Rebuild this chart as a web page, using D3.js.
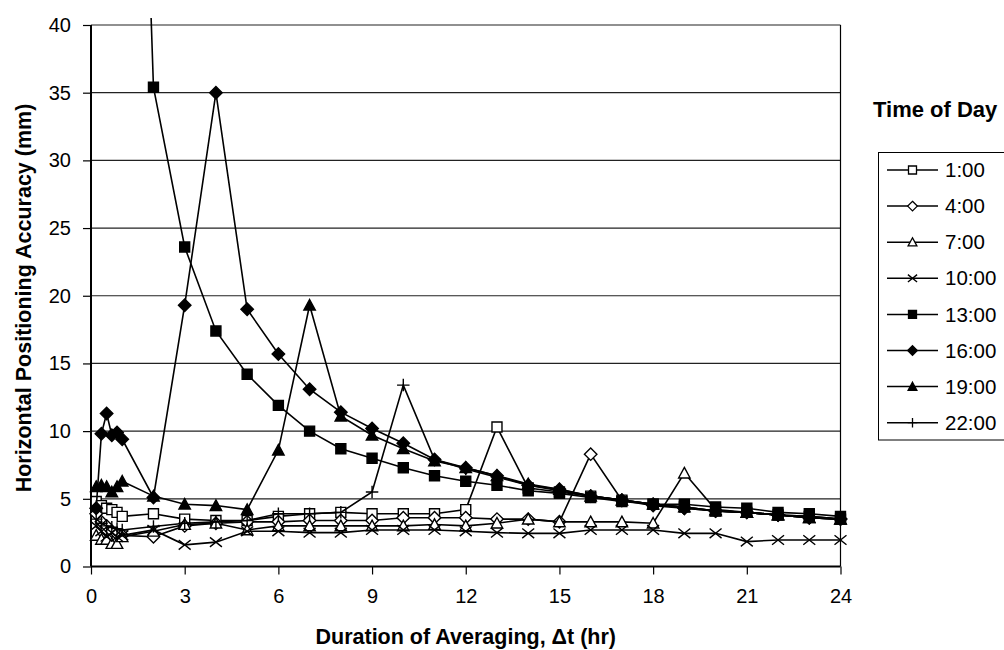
<!DOCTYPE html>
<html><head><meta charset="utf-8">
<script src="https://cdn.jsdelivr.net/npm/d3@7"></script>
<style>body{margin:0;background:#fff;} svg{display:block;font-family:"Liberation Sans",Arial,sans-serif;}</style>
</head><body>
<svg id="chart" width="1004" height="650"></svg>
<script>
const xValues = [1/6, 2/6, 3/6, 4/6, 5/6, 1, 2, 3, 4, 5, 6, 7, 8, 9, 10, 11, 12, 13, 14, 15, 16, 17, 18, 19, 20, 21, 22, 23, 24];
const seriesNames = ["1:00", "4:00", "7:00", "10:00", "13:00", "16:00", "19:00", "22:00"];
const s0100 = [4.8, 4.5, 4.3, 4.2, 4.0, 3.7, 3.9, 3.5, 3.4, 3.4, 3.7, 3.9, 4.0, 3.9, 3.9, 3.9, 4.2, 10.3, 5.8, 5.5, 5.2, 4.9, 4.6, 4.4, 4.1, 4.0, 3.8, 3.7, 3.5];
const s0400 = [3.9, 3.3, 3.0, 2.6, 2.4, 2.3, 2.2, 3.0, 3.2, 3.3, 3.3, 3.4, 3.4, 3.4, 3.6, 3.6, 3.6, 3.5, 3.5, 3.3, 8.3, 4.9, 4.5, 4.3, 4.1, 4.0, 3.8, 3.6, 3.5];
const s0700 = [2.3, 2.0, 2.0, 1.7, 1.7, 2.2, 2.6, 3.1, 3.2, 2.7, 3.0, 3.0, 3.0, 3.0, 3.0, 3.1, 3.0, 3.2, 3.5, 3.3, 3.3, 3.3, 3.2, 6.9, 4.2, 4.0, 3.8, 3.6, 3.5];
const s1000 = [3.0, 2.6, 2.2, 2.5, 2.2, 2.3, 2.7, 1.6, 1.8, 2.6, 2.6, 2.5, 2.5, 2.7, 2.7, 2.7, 2.6, 2.5, 2.45, 2.45, 2.7, 2.7, 2.7, 2.45, 2.45, 1.84, 1.96, 1.96, 1.96];
const s1300 = [60, 70, 80, 90, 100, 104, 35.4, 23.6, 17.4, 14.2, 11.9, 10.0, 8.7, 8.0, 7.3, 6.7, 6.3, 6.0, 5.6, 5.4, 5.1, 4.8, 4.6, 4.6, 4.4, 4.3, 4.0, 3.9, 3.7];
const s1600 = [4.3, 9.8, 11.3, 9.7, 9.9, 9.4, 5.1, 19.3, 35.0, 19.0, 15.7, 13.1, 11.4, 10.2, 9.1, 7.9, 7.3, 6.7, 6.0, 5.7, 5.2, 4.9, 4.6, 4.3, 4.1, 4.0, 3.8, 3.6, 3.5];
const s1900 = [5.9, 6.0, 5.9, 5.5, 5.9, 6.3, 5.2, 4.6, 4.5, 4.2, 8.6, 19.3, 11.1, 9.7, 8.7, 7.8, 7.3, 6.7, 6.1, 5.7, 5.2, 4.9, 4.6, 4.4, 4.1, 4.0, 3.8, 3.6, 3.5];
const s2200 = [3.5, 3.2, 3.0, 2.9, 2.8, 2.7, 2.95, 3.2, 3.3, 3.4, 3.9, 3.9, 4.0, 5.5, 13.4, 7.9, 7.2, 6.6, 6.0, 5.6, 5.2, 4.9, 4.6, 4.4, 4.1, 4.0, 3.8, 3.7, 3.5];
const seriesValues = [s0100, s0400, s0700, s1000, s1300, s1600, s1900, s2200];
const markerTypes = ["squareOpen", "diamondOpen", "triangleOpen", "x", "squareFilled", "diamondFilled", "triangleFilled", "plus"];
const xTicks = [0, 3, 6, 9, 12, 15, 18, 21, 24];
const yTicks = [0, 5, 10, 15, 20, 25, 30, 35, 40];

const svg = d3.select("#chart");
const L = 91, R = 840.5, T = 25, B = 566.5;
const x = d3.scaleLinear().domain([0, 24]).range([L, R]);
const y = d3.scaleLinear().domain([0, 40]).range([B, T]);

function markerPath(type, s) {
  const p = d3.path();
  if (type.startsWith("square")) { p.rect(-s, -s, 2*s, 2*s); }
  else if (type.startsWith("diamond")) { const d = s*1.2; p.moveTo(0,-d); p.lineTo(d,0); p.lineTo(0,d); p.lineTo(-d,0); p.closePath(); }
  else if (type.startsWith("triangle")) { const h = s*1.1; p.moveTo(0,-h); p.lineTo(h,h*0.85); p.lineTo(-h,h*0.85); p.closePath(); }
  else if (type === "x") { const d = s*1.15; p.moveTo(-d,-d*0.8); p.lineTo(d,d*0.8); p.moveTo(-d,d*0.8); p.lineTo(d,-d*0.8); }
  else if (type === "plus") { const d = s*1.2; p.moveTo(-d,0); p.lineTo(d,0); p.moveTo(0,-d); p.lineTo(0,d); }
  return p.toString();
}
function markerFill(type) { return type.endsWith("Filled") ? "#000" : (type.endsWith("Open") ? "#fff" : "none"); }

// gridlines
svg.append("g").selectAll("line").data(yTicks.filter(v => v > 0)).join("line")
  .attr("x1", L).attr("x2", R).attr("y1", d => y(d)).attr("y2", d => y(d))
  .attr("stroke", "#222").attr("stroke-width", 1.2);
svg.append("line").attr("x1", R).attr("x2", R).attr("y1", T).attr("y2", B).attr("stroke", "#000").attr("stroke-width", 1.2);

// axes
const yAxis = svg.append("g").attr("transform", `translate(${L},0)`)
  .call(d3.axisLeft(y).tickValues(yTicks).tickSize(8).tickPadding(12));
const xAxis = svg.append("g").attr("transform", `translate(0,${B})`)
  .call(d3.axisBottom(x).tickValues(xTicks).tickSize(8).tickPadding(14));
[yAxis, xAxis].forEach(g => {
  g.select(".domain").attr("stroke", "#000").attr("stroke-width", 2);
  g.selectAll(".tick line").attr("stroke", "#000").attr("stroke-width", 1.2);
  g.selectAll(".tick text").attr("fill", "#000").attr("font-size", 20).attr("font-family", "Liberation Sans, Arial, sans-serif");
});
xAxis.select(".domain").attr("d", `M${L},0H${R}`);
yAxis.select(".domain").attr("d", `M0,${B}V${T}`);

// clip
svg.append("defs").append("clipPath").attr("id", "clip").append("rect")
  .attr("x", L - 10).attr("y", 18).attr("width", R - L + 20).attr("height", B - 18 + 10);

const plot = svg.append("g").attr("clip-path", "url(#clip)");
const line = d3.line().x((d, i) => x(xValues[i])).y(d => y(d));
seriesValues.forEach((vals, si) => {
  const g = plot.append("g");
  g.append("path").attr("d", line(vals)).attr("fill", "none").attr("stroke", "#000").attr("stroke-width", 1.6);
  const t = markerTypes[si];
  g.selectAll("path.m").data(vals.map((v, i) => [xValues[i], v]).filter(d => d[1] <= 40)).join("path")
    .attr("class", "m")
    .attr("transform", d => `translate(${x(d[0])},${y(d[1])})`)
    .attr("d", markerPath(t, t.startsWith("square") ? 5 : 5.2))
    .attr("fill", markerFill(t)).attr("stroke", "#000").attr("stroke-width", 1.4);
});

// axis titles
svg.append("text").attr("x", (L + R) / 2).attr("y", 644).attr("text-anchor", "middle")
  .attr("font-size", 21.5).attr("font-weight", "bold").text("Duration of Averaging, \u0394t (hr)");
svg.append("text").attr("transform", "translate(31,298) rotate(-90)").attr("text-anchor", "middle")
  .attr("font-size", 21.5).attr("font-weight", "bold").text("Horizontal Positioning Accuracy (mm)");

// legend
svg.append("text").attr("x", 873).attr("y", 117).attr("font-size", 22).attr("font-weight", "bold").text("Time of Day");
svg.append("rect").attr("x", 878.5).attr("y", 152.5).attr("width", 140).attr("height", 287.5)
  .attr("fill", "#fff").attr("stroke", "#000").attr("stroke-width", 1);
const lg = svg.append("g").selectAll("g").data(seriesNames).join("g")
  .attr("transform", (d, i) => `translate(0,${170 + i * 36.1})`);
lg.append("line").attr("x1", 887).attr("x2", 938).attr("stroke", "#000").attr("stroke-width", 1.5);
lg.append("path").attr("transform", "translate(912.5,0)").attr("d", (d, i) => markerPath(markerTypes[i], 4))
  .attr("fill", (d, i) => markerFill(markerTypes[i])).attr("stroke", "#000").attr("stroke-width", 1.3);
lg.append("text").attr("x", 945).attr("dy", "0.35em").attr("font-size", 20.5).text(d => d);
</script>
</body></html>
